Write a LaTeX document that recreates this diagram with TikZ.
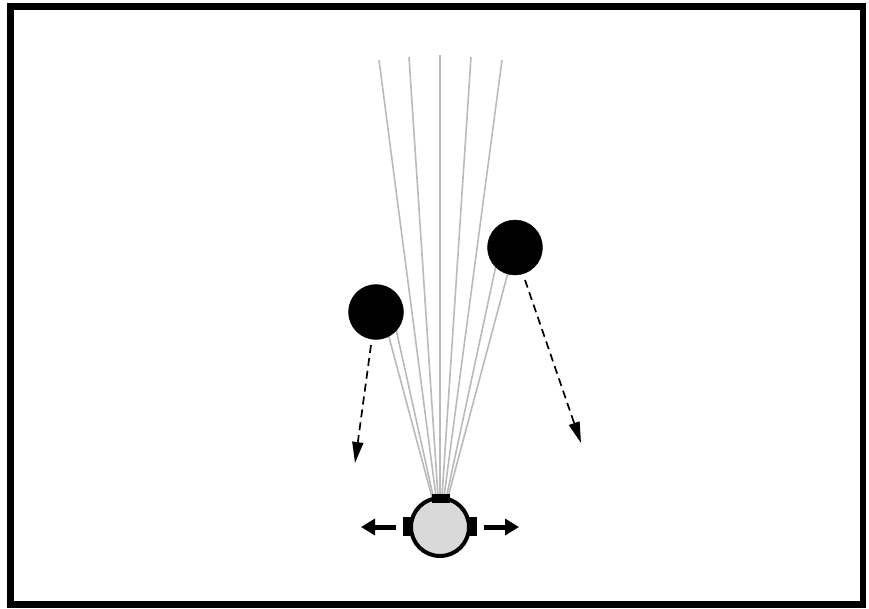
\documentclass[tikz,border=0pt]{standalone}
\usetikzlibrary{arrows.meta}
\begin{document}
\begin{tikzpicture}[x=1pt,y=-1pt,
  ray/.style={draw=black!27, line width=1.6pt},
  obstacle/.style={circle, fill=black, draw=black, minimum size=55pt, inner sep=0pt},
  motion/.style={draw=black, line width=1.7pt, dash pattern=on 8pt off 5pt, -{Triangle[length=21pt,width=11pt]}},
  push/.style={draw=black, line width=5pt, -{Triangle[length=14pt,width=16pt]}},
  block/.style={fill=black, draw=none}]
\useasboundingbox (0,0) rectangle (869,608);
\draw[line width=6.5pt] (10.5,6.5) rectangle (863,604.5);
% ray end points
\coordinate (t1) at (379,60);
\coordinate (t2) at (409,57);
\coordinate (t3) at (440,55);
\coordinate (t4) at (471,57);
\coordinate (t5) at (502,60);
\coordinate (l1) at (386,326);
\coordinate (l2) at (394,320);
\coordinate (r1) at (498,256);
\coordinate (r2) at (510,265);
\coordinate (rc) at (440,527);
\foreach \e in {t1,t2,t3,t4,t5,l1,l2,r1,r2} \draw[ray] (rc) -- (\e);
% obstacles
\node[obstacle] (obsL) at (376,312) {};
\node[obstacle] (obsR) at (515,247.5) {};
% motion arrows of obstacles
\coordinate (mL) at (355,463);
\coordinate (mR) at (581,443);
\draw[motion] (371,345) -- (mL);
\draw[motion] (525,280) -- (mR);
% robot
\node[circle, draw=black, line width=4pt, fill=black!15, minimum size=58pt, inner sep=0pt] (robot) at (rc) {};
\fill[block] (432,494) rectangle (450,503);
\fill[block] (403,517) rectangle (412,536);
\fill[block] (468,517) rectangle (477,536);
\coordinate (pl) at (361,527);
\coordinate (pr) at (519,527);
\draw[push] (396,527) -- (pl);
\draw[push] (484,527) -- (pr);
\end{tikzpicture}
\end{document}
